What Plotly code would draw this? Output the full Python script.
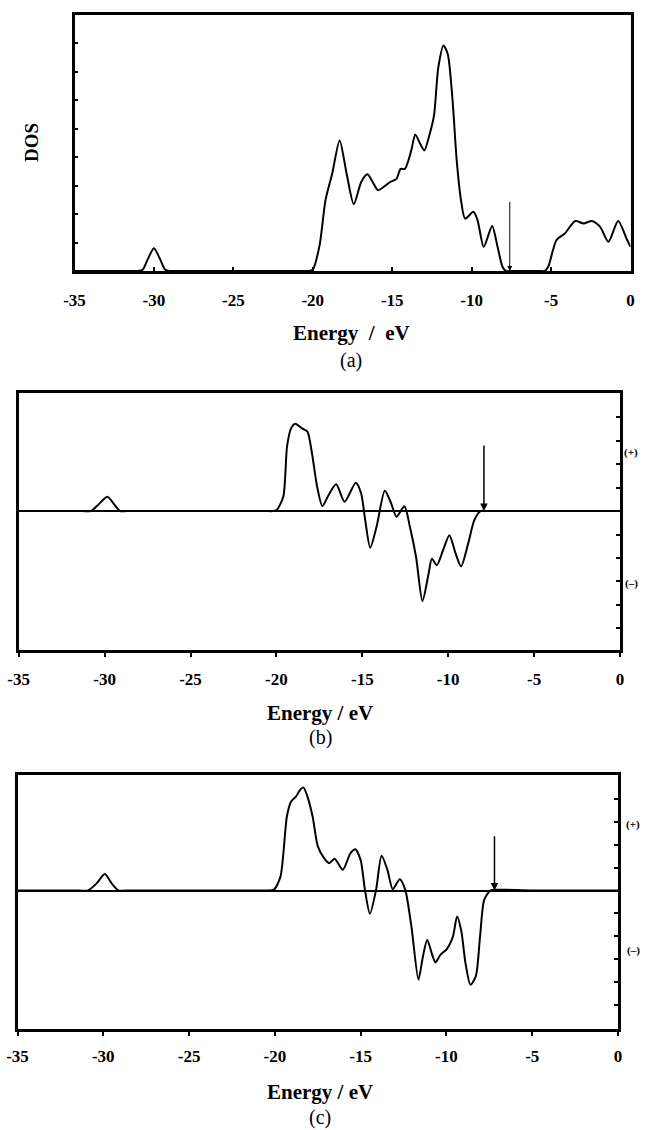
import plotly.graph_objects as go

# ---- data ----
energy_a = [-35, -33.0, -31.4, -31.0, -30.7, -30.4, -30.0, -29.6, -29.3, -29.0, -28.6, -26.0, -23.0, -20.6,
            -20.3, -20.0, -19.57, -19.2, -18.78, -18.31, -17.87, -17.42, -16.95, -16.56, -16.17, -15.9,
            -15.12, -14.73, -14.47, -14.2, -13.8, -13.55, -13.24, -12.98, -12.64, -12.37, -12.1, -11.77,
            -11.5, -11.2, -10.94, -10.67, -10.41, -9.89, -9.63, -9.24, -8.71, -8.37, -8.06, -7.85, -7.5,
            -7.0, -6.2, -5.7, -5.4, -5.18, -4.66, -4.13, -3.48, -2.96, -2.43, -1.91, -1.39, -0.78, -0.21, 0]
dos_a = [0, 0, 0, 0, 0.05, 0.4, 0.8, 0.4, 0.05, 0, 0, 0, 0, 0, 0, 0.05, 0.91, 2.49, 3.42, 4.59, 3.42,
         2.35, 3.13, 3.40, 3.07, 2.84, 3.13, 3.24, 3.59, 3.59, 4.24, 4.80, 4.47, 4.24, 4.82, 5.46, 7.15,
         7.93, 7.62, 5.99, 3.89, 2.49, 1.84, 2.08, 1.79, 0.85, 1.58, 0.85, 0.15, 0, 0, 0, 0, 0, 0, 0.15,
         1.09, 1.32, 1.76, 1.67, 1.76, 1.55, 1.03, 1.76, 1.09, 0.85]

energy_b = [-35, -33.0, -31.3, -30.8, -30.4, -29.84, -29.4, -29.1, -28.7, -26.5, -23.5, -20.6, -20.2,
            -19.98, -19.6, -19.38, -19.14, -18.9, -18.53, -18.2, -17.93, -17.63, -17.32, -16.96, -16.52,
            -16.03, -15.38, -15.07, -14.83, -14.54, -14.17, -13.69, -13.32, -13.01, -12.55, -12.23, -11.87,
            -11.5, -11.14, -10.95, -10.66, -10.3, -9.93, -9.57, -9.25, -8.84, -8.48, -8.12, -7.8, -7.5,
            -6.0, -4.0, -2.0, 0]
pdos_b = [0, 0, 0, 0, 0.25, 0.61, 0.25, 0, 0, 0, 0, 0, 0, 0.05, 0.61, 2.76, 3.54, 3.73, 3.54, 3.4, 2.47,
          1.04, 0.21, 0.69, 1.14, 0.4, 1.21, 0.76, -0.39, -1.56, -0.67, 0.87, 0.33, -0.24, 0.21, -0.67,
          -1.96, -3.84, -2.67, -2.03, -2.31, -1.67, -1.03, -1.81, -2.36, -1.39, -0.39, 0, 0, 0, 0, 0, 0, 0]

energy_c = [-35, -33.0, -31.4, -30.9, -30.4, -29.91, -29.5, -29.1, -28.7, -26.5, -23.5, -20.6, -20.3,
            -20.03, -19.67, -19.3, -19.06, -18.77, -18.53, -18.34, -18.1, -17.8, -17.49, -17.13, -16.84,
            -16.52, -16.04, -15.6, -15.31, -15.0, -14.75, -14.46, -14.1, -13.78, -13.44, -13.13, -12.72,
            -12.4, -12.04, -11.63, -11.37, -11.12, -10.83, -10.64, -10.35, -9.98, -9.62, -9.38, -9.13, -8.89,
            -8.6, -8.29, -8.04, -7.8, -7.44, -7.0, -6.5, -5.0, -3.0, -1.5, 0]
pdos_c = [0, 0, 0, 0, 0.3, 0.72, 0.3, 0, 0, 0, 0, 0, 0, 0.05, 0.61, 3.22, 3.87, 4.09, 4.38, 4.49, 4.09,
          3.22, 1.91, 1.41, 1.19, 1.38, 0.9, 1.62, 1.8, 1.33, 0.03, -1.01, 0.03, 1.51, 0.9, 0.06, 0.49, 0.03,
          -1.57, -3.88, -2.87, -2.14, -2.8, -3.13, -2.8, -2.55, -2.0, -1.13, -1.78, -3.16, -4.1, -3.74,
          -2.0, -0.41, 0, 0.03, 0.03, 0, 0, 0, 0]

x_ticks = [-35, -30, -25, -20, -15, -10, -5, 0]
x_ticklabels = ["-35", "-30", "-25", "-20", "-15", "-10", "-5", "0"]
fermi = {"a": (-7.6, 2.48), "b": (-7.92, 2.86), "c": (-7.2, 2.43)}

W, H = 652, 1130
def px(x): return x / W
def py(y): return 1 - y / H

SERIF = "Liberation Serif"
fig = go.Figure()
line = dict(color="black", width=2, shape="spline", smoothing=0.7)
fig.add_trace(go.Scatter(x=energy_a, y=dos_a, mode="lines", line=line, xaxis="x", yaxis="y", showlegend=False))
fig.add_trace(go.Scatter(x=energy_b, y=pdos_b, mode="lines", line=line, xaxis="x2", yaxis="y2", showlegend=False))
fig.add_trace(go.Scatter(x=energy_c, y=pdos_c, mode="lines", line=line, xaxis="x3", yaxis="y3", showlegend=False))

def xax(domain, anchor, ticks, standoff):
    return dict(domain=domain, anchor=anchor, range=[-35, 0], tickvals=x_ticks, ticktext=x_ticklabels,
                showline=True, mirror=True, linecolor="black", linewidth=2.5, showgrid=False, zeroline=False,
                ticks=ticks, ticklen=4, tickwidth=2, tickcolor="black", automargin=False,
                ticklabelstandoff=standoff,
                tickfont=dict(family=SERIF, size=17, color="black", weight="bold"))

def yax(domain, anchor, rng, side, tickvals, zl):
    return dict(domain=domain, anchor=anchor, range=rng, side=side, tickvals=tickvals,
                showticklabels=False, ticks="inside", ticklen=4, tickwidth=2, tickcolor="black",
                showline=True, mirror=True, linecolor="black", linewidth=2.5, showgrid=False,
                automargin=False, zeroline=zl, zerolinecolor="black", zerolinewidth=2)

fig.update_layout(
    template="none",
    width=W, height=H, margin=dict(l=0, r=0, t=0, b=0, autoexpand=False),
    paper_bgcolor="white", plot_bgcolor="white",
    xaxis=xax([px(74.5), px(630.5)], "y", "inside", 12),
    yaxis=yax([py(271), py(15)], "x", [0, 9], "left", [1, 2, 3, 4, 5, 6, 7, 8], False),
    xaxis2=xax([px(18.7), px(620)], "y2", "outside", 8),
    yaxis2=yax([py(650), py(393)], "x2", [-5.93, 5.04], "right", [-5, -4, -3, -2, -1, 0, 1, 2, 3, 4], True),
    xaxis3=xax([px(17.5), px(618)], "y3", "outside", 6),
    yaxis3=yax([py(1029), py(775)], "x3", [-6.03, 5.03], "right", [-5, -4, -3, -2, -1, 0, 1, 2, 3, 4], True),
)

# Fermi-level arrows
for (k, xr, yr, w) in [("a", "x", "y", 1), ("b", "x2", "y2", 1.5), ("c", "x3", "y3", 1.5)]:
    e, top = fermi[k]
    fig.add_annotation(x=e, y=0, ax=e, ay=top, xref=xr, yref=yr, axref=xr, ayref=yr,
                       showarrow=True, arrowhead=2, arrowsize=1, arrowwidth=w, arrowcolor="black", text="")

def txt(x, y, s, size, bold=True, angle=0):
    fig.add_annotation(x=px(x), y=py(y), xref="paper", yref="paper", text=s, showarrow=False,
                       textangle=angle, xanchor="center", yanchor="middle",
                       font=dict(family=SERIF, size=size, color="black", weight="bold" if bold else "normal"))

txt(31, 143, "DOS", 19, angle=-90)
txt(351, 333, "Energy  /  eV", 21)
txt(351, 360, "(a)", 20, bold=False)
txt(320, 713, "Energy / eV", 21)
txt(320, 738, "(b)", 20, bold=False)
txt(320, 1092, "Energy / eV", 21)
txt(320, 1117, "(c)", 20, bold=False)
for (x, y, s) in [(640, 452, "(+)"), (640, 583, "(\u2013)"), (642, 833, "(+)"), (642, 959, "(\u2013)")]:
    fig.add_annotation(x=px(x), y=py(y), xref="paper", yref="paper", text=s, showarrow=False,
                       font=dict(family=SERIF, size=11, color="black", weight="bold"))

fig.write_html("out.html", config={"displayModeBar": False},
               post_script="document.body.style.margin='0';document.body.style.overflow='hidden';")
